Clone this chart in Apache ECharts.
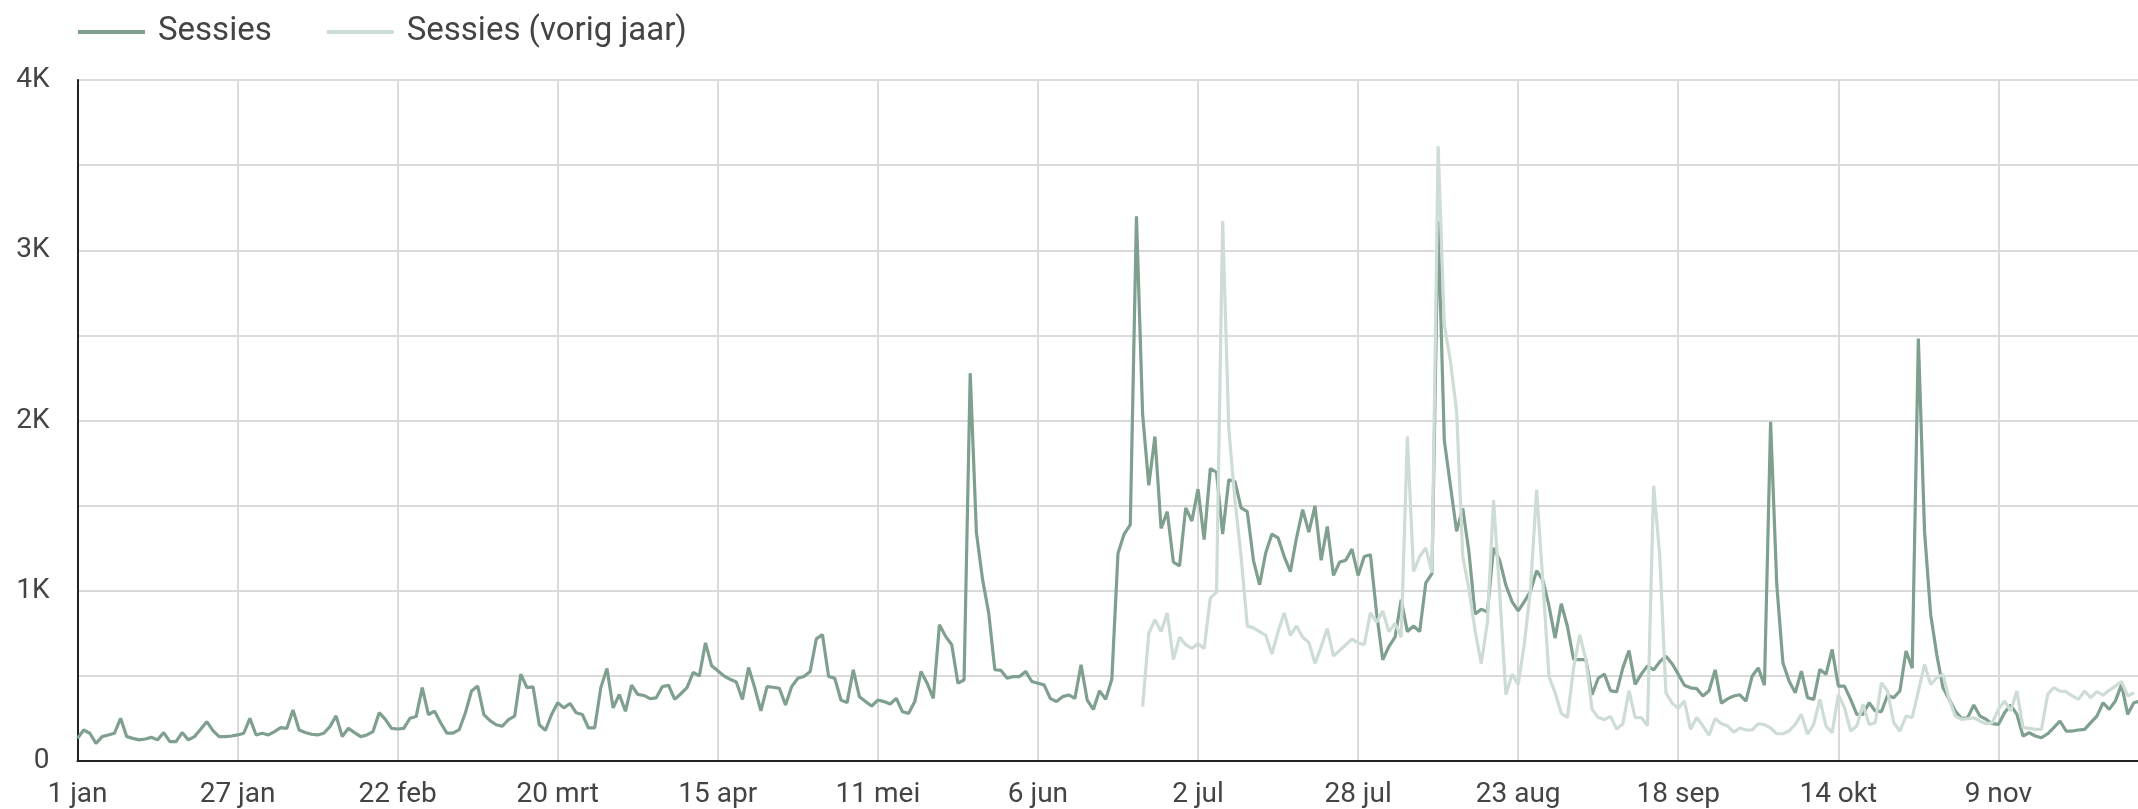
<!DOCTYPE html>
<html>
<head>
<meta charset="utf-8">
<script src="https://cdn.jsdelivr.net/npm/echarts@6/dist/echarts.min.js"></script>
<style>
  html, body { margin: 0; padding: 0; background: #fff; overflow: hidden; }
  #chart { width: 2140px; height: 809px; }
</style>
</head>
<body>
<div id="chart"></div>
<script>
// dagen 1 jan .. 2 dec
const maanden = ['jan', 'feb', 'mrt', 'apr', 'mei', 'jun', 'jul', 'aug', 'sep', 'okt', 'nov', 'dec'];
const dagenPerMaand = [31, 28, 31, 30, 31, 30, 31, 31, 30, 31, 30, 31];
const tickLabels = ['1 jan', '27 jan', '22 feb', '20 mrt', '15 apr', '11 mei', '6 jun', '2 jul', '28 jul', '23 aug', '18 sep', '14 okt', '9 nov'];

// Sessies, per dag vanaf 1 jan
const sessies = [
  133, 182, 163, 104, 143, 153, 163, 251, 143, 133,
  124, 129, 139, 124, 167, 114, 114, 167, 124, 143,
  186, 231, 178, 143, 143, 147, 153, 163, 251, 153,
  163, 153, 173, 196, 192, 300, 182, 167, 157, 153,
  163, 202, 265, 143, 192, 167, 143, 153, 173, 284,
  245, 192, 188, 192, 251, 261, 431, 273, 292, 223,
  164, 164, 184, 283, 411, 440, 273, 237, 213, 204,
  243, 263, 510, 431, 435, 213, 180, 273, 342, 312,
  338, 283, 273, 194, 194, 431, 543, 312, 391, 292,
  445, 391, 385, 366, 371, 437, 445, 362, 395, 431,
  520, 500, 694, 559, 530, 500, 480, 464, 362, 549,
  430, 295, 437, 433, 427, 329, 437, 486, 496, 526,
  717, 742, 496, 486, 358, 343, 536, 378, 349, 323,
  358, 349, 335, 368, 289, 280, 349, 526, 457, 368,
  801, 732, 683, 457, 476, 2278, 1343, 1067, 870, 536,
  532, 486, 496, 496, 526, 467, 457, 447, 368, 349,
  378, 388, 368, 565, 358, 303, 412, 363, 480, 1220,
  1333, 1388, 3200, 2038, 1619, 1906, 1366, 1465, 1168, 1146,
  1487, 1410, 1597, 1300, 1718, 1696, 1333, 1652, 1641, 1487,
  1465, 1179, 1035, 1223, 1333, 1311, 1201, 1112, 1311, 1476,
  1344, 1498, 1179, 1377, 1090, 1168, 1179, 1245, 1090, 1201,
  1212, 870, 595, 672, 727, 947, 760, 793, 760, 1046,
  1100, 3172, 1884, 1617, 1349, 1483, 1228, 863, 892, 875,
  1252, 1179, 1033, 936, 882, 936, 997, 1118, 1062, 912,
  722, 924, 790, 596, 596, 596, 389, 486, 510, 413,
  406, 547, 649, 450, 510, 559, 535, 583, 615, 571,
  510, 445, 430, 425, 382, 413, 535, 340, 365, 382,
  389, 352, 498, 547, 445, 1993, 1037, 577, 470, 401,
  528, 372, 362, 538, 509, 655, 440, 440, 362, 274,
  274, 342, 294, 290, 386, 372, 411, 646, 545, 2481,
  1350, 861, 622, 430, 362, 294, 250, 254, 329, 264,
  245, 219, 215, 284, 329, 274, 147, 166, 147, 137,
  160, 196, 235, 176, 176, 182, 186, 225, 264, 342,
  303, 352, 450, 274, 342, 352
];

// Sessies (vorig jaar), begint op 23 jun
const vorigJaarStart = '23 jun';
const sessiesVorigJaar = [
  319, 749, 830, 760, 870, 595,
  727, 683, 661, 690, 661, 958, 991, 3172, 1950, 1531,
  1201, 793, 782, 760, 738, 628, 760, 870, 738, 793,
  727, 698, 573, 672, 778, 617, 650, 683, 716, 694,
  683, 870, 815, 881, 760, 808, 727, 1906, 1112, 1201,
  1252, 1106, 3610, 2565, 2346, 2054, 1203, 1009, 766, 571,
  814, 1532, 985, 389, 510, 450, 688, 1009, 1592, 1057,
  498, 401, 280, 255, 547, 741, 596, 304, 255, 243,
  262, 187, 219, 413, 255, 255, 207, 1617, 1203, 401,
  340, 309, 352, 187, 255, 207, 151, 250, 219, 207,
  170, 194, 182, 182, 219, 214, 194, 160, 160, 176,
  215, 274, 157, 215, 362, 205, 166, 391, 313, 176,
  205, 333, 215, 225, 460, 411, 225, 176, 264, 254,
  411, 568, 450, 489, 509, 362, 264, 245, 249, 254,
  235, 219, 225, 303, 352, 294, 411, 196, 192, 186,
  186, 391, 431, 411, 407, 382, 362, 411, 372, 407,
  387, 415, 440, 466, 382, 401
];

const dagen = [];
dagenPerMaand.forEach((n, m) => {
  for (let d = 1; d <= n; d++) dagen.push(d + ' ' + maanden[m]);
});
const categories = dagen.slice(0, sessies.length);

const offset = categories.indexOf(vorigJaarStart);
const vorigJaarData = new Array(offset).fill(null).concat(sessiesVorigJaar);

const isTick = (i, v) => tickLabels.indexOf(v) !== -1;
const font = 'Roboto';
const textColor = '#444';
const gridColor = '#dadada';

const chart = echarts.init(document.getElementById('chart'));
chart.setOption({
  animation: false,
  legend: {
    left: 73,
    top: 7,
    icon: 'rect',
    itemWidth: 67,
    itemHeight: 4,
    itemGap: 55,
    selectedMode: false,
    textStyle: { fontFamily: font, fontSize: 33, color: textColor, lineHeight: 40, padding: [0, 0, 0, 8] },
    data: ['Sessies', 'Sessies (vorig jaar)']
  },
  grid: { left: 77.5, right: 0, top: 80, bottom: 48, outerBoundsMode: 'none' },
  xAxis: {
    type: 'category',
    boundaryGap: false,
    data: categories,
    axisLine: { show: true, lineStyle: { color: '#222', width: 2 } },
    axisTick: { show: false },
    axisLabel: { interval: isTick, margin: 20, fontFamily: font, fontSize: 28, color: textColor },
    splitLine: { show: true, interval: isTick, lineStyle: { color: gridColor, width: 2 } }
  },
  yAxis: {
    type: 'value',
    min: 0,
    max: 4000,
    interval: 500,
    axisLine: { show: true, lineStyle: { color: '#222', width: 2 } },
    axisTick: { show: false },
    axisLabel: {
      margin: 28,
      fontFamily: font,
      fontSize: 28,
      color: textColor,
      formatter: v => (v % 1000 !== 0 ? '' : v === 0 ? '0' : v / 1000 + 'K')
    },
    splitLine: { show: true, lineStyle: { color: gridColor, width: 2 } }
  },
  series: [
    {
      name: 'Sessies',
      type: 'line',
      data: sessies,
      symbol: 'none',
      color: '#7f9f8f',
      lineStyle: { width: 3.2, color: '#7f9f8f' }
    },
    {
      name: 'Sessies (vorig jaar)',
      type: 'line',
      data: vorigJaarData,
      symbol: 'none',
      color: '#cddcd4',
      lineStyle: { width: 3.2, color: '#cddcd4' }
    }
  ]
});
</script>
</body>
</html>
